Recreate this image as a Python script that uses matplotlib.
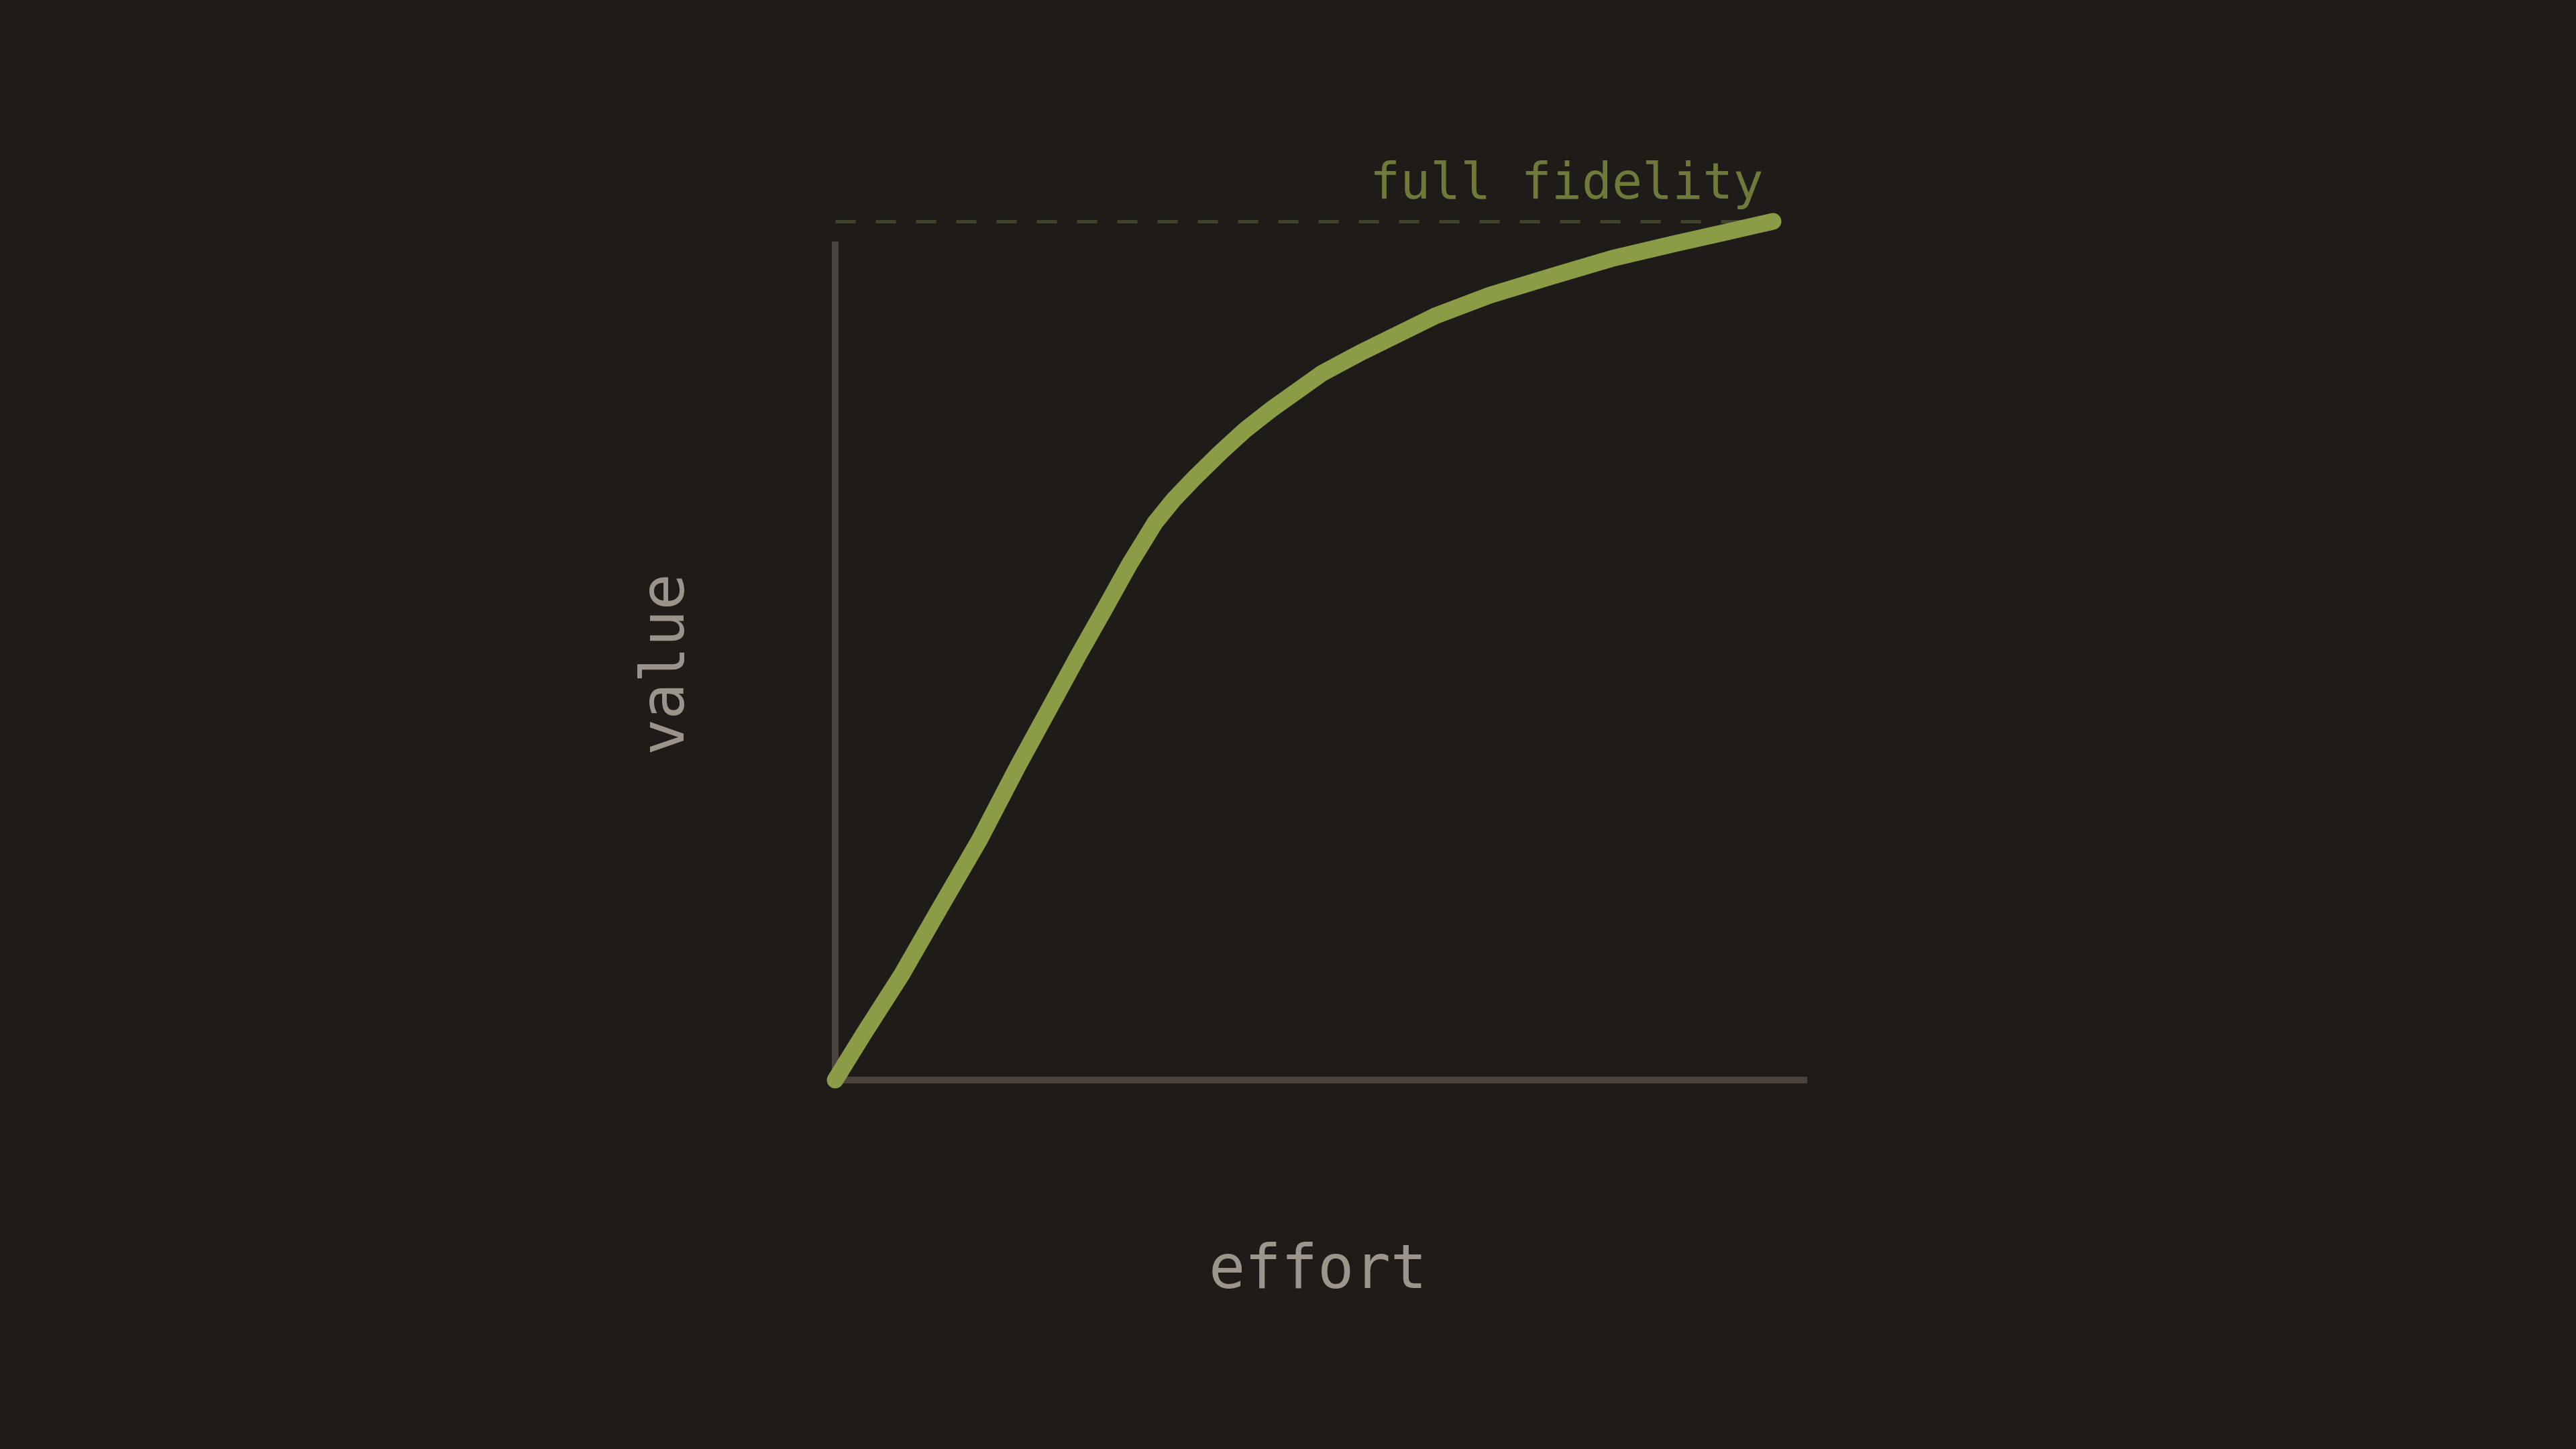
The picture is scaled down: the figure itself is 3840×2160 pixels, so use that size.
import numpy as np
import matplotlib.pyplot as plt

# curva esfuerzo -> valor (0..1 en ambos ejes)
effort = [0.0, 0.030, 0.071, 0.112, 0.154, 0.195, 0.232, 0.259, 0.287, 0.314,
          0.341, 0.361, 0.382, 0.410, 0.437, 0.465, 0.492, 0.519, 0.560, 0.601,
          0.640, 0.698, 0.764, 0.829, 0.895, 0.948, 1.0]
value = [0.0, 0.053, 0.123, 0.201, 0.280, 0.366, 0.440, 0.494, 0.548, 0.601,
         0.649, 0.676, 0.700, 0.730, 0.757, 0.781, 0.802, 0.823, 0.847, 0.869,
         0.890, 0.914, 0.936, 0.957, 0.974, 0.987, 1.0]
ceiling = 1.0
ceiling_label = 'full fidelity'
x_label = 'effort'
y_label = 'value'

bg = '#1e1b18'
axis_col = '#4a433d'
text_col = '#9b958b'
curve_col = '#8a9c46'
dim_green = '#6f7a3a'
dash_col = '#41432a'

fig = plt.figure(figsize=(19.2, 10.8), dpi=200, facecolor=bg)
ax = fig.add_axes([1245 / 3840, 1 - 1610 / 2160, 1449 / 3840, 1250 / 2160])
ax.set_facecolor(bg)

ax.set_xlim(0, 1449 / 1398)
ax.set_ylim(0, 1250 / 1280)

# linea de techo
ax.plot([0, 1], [ceiling, ceiling], color=dash_col, lw=1.8,
        dashes=(6, 6), clip_on=False, zorder=2)
ax.text(0.9895, ceiling + 0.0266, ceiling_label, ha='right', va='baseline',
        color=dim_green, fontsize=27, family='DejaVu Sans Mono')

# curva
ax.plot(effort, value, color=curve_col, lw=9, solid_capstyle='round',
        solid_joinstyle='round', clip_on=False, zorder=3)

for s in ['top', 'right']:
    ax.spines[s].set_visible(False)
for s in ['left', 'bottom']:
    ax.spines[s].set_color(axis_col)
    ax.spines[s].set_linewidth(3.6)
    ax.spines[s].set_capstyle('butt')
ax.set_xticks([])
ax.set_yticks([])

ax.set_xlabel(x_label, fontsize=32.5, color=text_col, family='DejaVu Sans Mono',
              va='baseline')
ax.xaxis.set_label_coords(0.4966, -0.248)
ax.set_ylabel(y_label, fontsize=32.5, color=text_col, family='DejaVu Sans Mono',
              va='baseline')
ax.yaxis.set_label_coords(-0.158, 0.5)

fig.savefig('out.png', dpi=200, facecolor=bg)
